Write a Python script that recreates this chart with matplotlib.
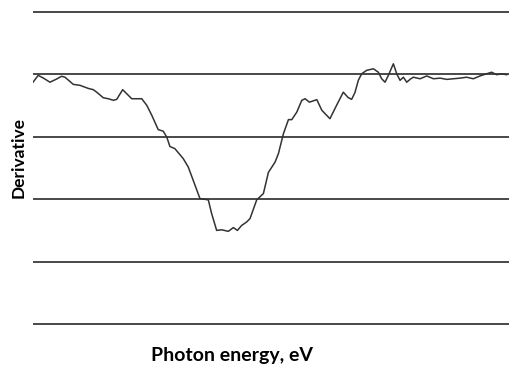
import numpy as np
import matplotlib
matplotlib.use('Agg')
import matplotlib.pyplot as plt

# photon energy (eV) and derivative signal
energy = [1.500, 1.522, 1.546, 1.571, 1.596, 1.620, 1.634, 1.669, 1.697, 1.732,
          1.753, 1.767, 1.795, 1.816, 1.837, 1.851, 1.876, 1.893, 1.914, 1.942,
          1.956, 1.977, 1.998, 2.025, 2.046, 2.061, 2.074, 2.095, 2.130, 2.151,
          2.172, 2.200, 2.235, 2.249, 2.270, 2.291, 2.319, 2.340, 2.357, 2.375,
          2.396, 2.410, 2.438, 2.466, 2.487, 2.515, 2.529, 2.550, 2.571, 2.585,
          2.606, 2.627, 2.641, 2.659, 2.690, 2.711, 2.745, 2.773, 2.801, 2.821,
          2.836, 2.850, 2.864, 2.878, 2.899, 2.927, 2.948, 2.962, 2.976, 2.990,
          3.011, 3.025, 3.039, 3.053, 3.067, 3.084, 3.095, 3.123, 3.151, 3.179,
          3.207, 3.235, 3.262, 3.290, 3.318, 3.346, 3.374, 3.402, 3.423, 3.444,
          3.465, 3.486]
derivative = [-0.025, -0.003, -0.013, -0.025, -0.016, -0.006, -0.009, -0.032, -0.035, -0.045,
              -0.049, -0.057, -0.075, -0.078, -0.083, -0.080, -0.049, -0.062, -0.078, -0.078,
              -0.078, -0.099, -0.131, -0.177, -0.182, -0.201, -0.231, -0.238, -0.270, -0.297,
              -0.340, -0.398, -0.402, -0.446, -0.500, -0.498, -0.503, -0.491, -0.500, -0.484,
              -0.473, -0.462, -0.402, -0.382, -0.314, -0.281, -0.254, -0.190, -0.145, -0.145,
              -0.121, -0.083, -0.078, -0.089, -0.081, -0.115, -0.142, -0.099, -0.057, -0.074,
              -0.080, -0.058, -0.019, 0.002, 0.013, 0.018, 0.007, -0.014, -0.025, -0.003,
              0.034, 0.002, -0.019, -0.009, -0.025, -0.014, -0.009, -0.014, -0.005, -0.014,
              -0.012, -0.016, -0.014, -0.012, -0.009, -0.014, -0.005, 0.002, 0.007, -0.001,
              0.002, -0.001]
grid_levels = [0.2, 0.0, -0.2, -0.4, -0.6, -0.8]

fig = plt.figure(figsize=(5.1, 3.68), dpi=100)
ax = fig.add_axes([33 / 510, 42 / 368, 477 / 510, 316 / 368])

for lvl in grid_levels:
    ax.axhline(lvl, color='#3a3a3a', lw=1.3, zorder=1)

ax.plot(energy, derivative, color='#333333', lw=1.1, zorder=2)

ax.set_xlim(1.5, 3.5)
ax.set_ylim(-0.8064, 0.2064)
ax.set_xticks([])
ax.set_yticks([])
for s in ax.spines.values():
    s.set_visible(False)

fig.text(0.455, 0.035, 'Photon energy, eV', ha='center', va='center',
         fontsize=14, fontweight='bold', family='Lato')
fig.text(0.036, 0.571, 'Derivative', ha='center', va='center', rotation=90,
         fontsize=12.5, fontweight='bold', family='Lato')

fig.savefig('out.png', dpi=100)
